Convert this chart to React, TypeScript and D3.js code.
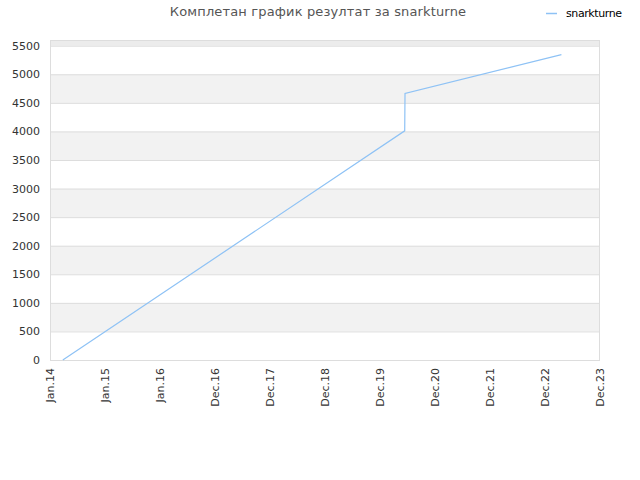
import React, { useEffect, useRef } from "react";
import * as d3 from "d3";

const title = "Комплетан график резултат за snarkturne";
const seriesName = "snarkturne";
const pointDates = ["2014-03-27", "2020-06-12", "2020-06-14", "2023-04-18"];
const pointValues = [0, 4010, 4665, 5345];
const tickDates = [
  "2014-01-01", "2015-01-01", "2016-01-01", "2016-12-31", "2017-12-31",
  "2018-12-31", "2019-12-31", "2020-12-30", "2021-12-30", "2022-12-30", "2023-12-30",
];
const yTicks = [0, 500, 1000, 1500, 2000, 2500, 3000, 3500, 4000, 4500, 5000, 5500];

const App = () => {
  const ref = useRef<SVGSVGElement>(null);

  useEffect(() => {
    const width = 640;
    const height = 480;
    const left = 50, right = 40, top = 40, bottom = 120;
    const parse = d3.timeParse("%Y-%m-%d");
    const fmt = d3.timeFormat("%b.%y");

    const svg = d3.select(ref.current);
    svg.selectAll("*").remove();

    const x = d3
      .scaleTime()
      .domain([parse(tickDates[0]) as Date, parse(tickDates[tickDates.length - 1]) as Date])
      .range([left, width - right]);
    const y = d3.scaleLinear().domain([0, 5600]).range([height - bottom, top]);

    // alternating bands
    const bands = d3.range(0, 5600, 500);
    svg.append("g")
      .selectAll("rect")
      .data(bands)
      .join("rect")
      .attr("x", left)
      .attr("width", width - left - right)
      .attr("y", (d) => y(Math.min(d + 500, 5600)))
      .attr("height", (d) => y(d) - y(Math.min(d + 500, 5600)))
      .attr("fill", (d) => (d === 5500 ? "#ececec" : (d / 500) % 2 === 1 ? "#f2f2f2" : "#ffffff"));

    // grid lines
    svg.append("g")
      .selectAll("line")
      .data(yTicks)
      .join("line")
      .attr("x1", left)
      .attr("x2", width - right)
      .attr("y1", (d) => y(d) + 0.5)
      .attr("y2", (d) => y(d) + 0.5)
      .attr("stroke", "#dddddd");

    svg.append("rect")
      .attr("x", left + 0.5)
      .attr("y", top + 0.5)
      .attr("width", width - left - right - 1)
      .attr("height", height - bottom - top)
      .attr("fill", "none")
      .attr("stroke", "#dddddd");

    // y labels
    svg.append("g")
      .selectAll("text")
      .data(yTicks)
      .join("text")
      .attr("x", left - 10)
      .attr("y", (d) => y(d) + 4)
      .attr("text-anchor", "end")
      .attr("font-family", "DejaVu Sans")
      .attr("font-size", 11)
      .attr("fill", "#333")
      .text((d) => d);

    // x labels
    svg.append("g")
      .selectAll("text")
      .data(tickDates)
      .join("text")
      .attr("transform", (d) => `translate(${x(parse(d) as Date) + 4}, ${height - bottom + 8}) rotate(-90)`)
      .attr("text-anchor", "end")
      .attr("font-family", "DejaVu Sans")
      .attr("font-size", 11)
      .attr("fill", "#333")
      .text((d) => fmt(parse(d) as Date));

    const data = pointDates.map((d, i) => ({ date: parse(d) as Date, value: pointValues[i] }));
    svg.append("path")
      .datum(data)
      .attr("fill", "none")
      .attr("stroke", "#8ec2f5")
      .attr("stroke-width", 1.2)
      .attr(
        "d",
        d3.line<{ date: Date; value: number }>()
          .x((d) => x(d.date))
          .y((d) => y(d.value))
      );

    svg.append("text")
      .attr("x", 318)
      .attr("y", 16)
      .attr("text-anchor", "middle")
      .attr("font-family", "DejaVu Sans")
      .attr("font-size", 13)
      .attr("letter-spacing", 0.15)
      .attr("fill", "#555")
      .text(title);

    svg.append("line")
      .attr("x1", 546)
      .attr("x2", 557)
      .attr("y1", 13.5)
      .attr("y2", 13.5)
      .attr("stroke", "#8ec2f5")
      .attr("stroke-width", 1.5);
    svg.append("text")
      .attr("x", 566)
      .attr("y", 17)
      .attr("font-family", "DejaVu Sans")
      .attr("font-size", 11)
      .attr("letter-spacing", -0.4)
      .attr("fill", "#000")
      .text(seriesName);
  });

  return (
    <svg
      ref={ref}
      width={640}
      height={480}
      style={{ position: "absolute", left: 0, top: 0, background: "#fff" }}
    />
  );
};

export default App;
